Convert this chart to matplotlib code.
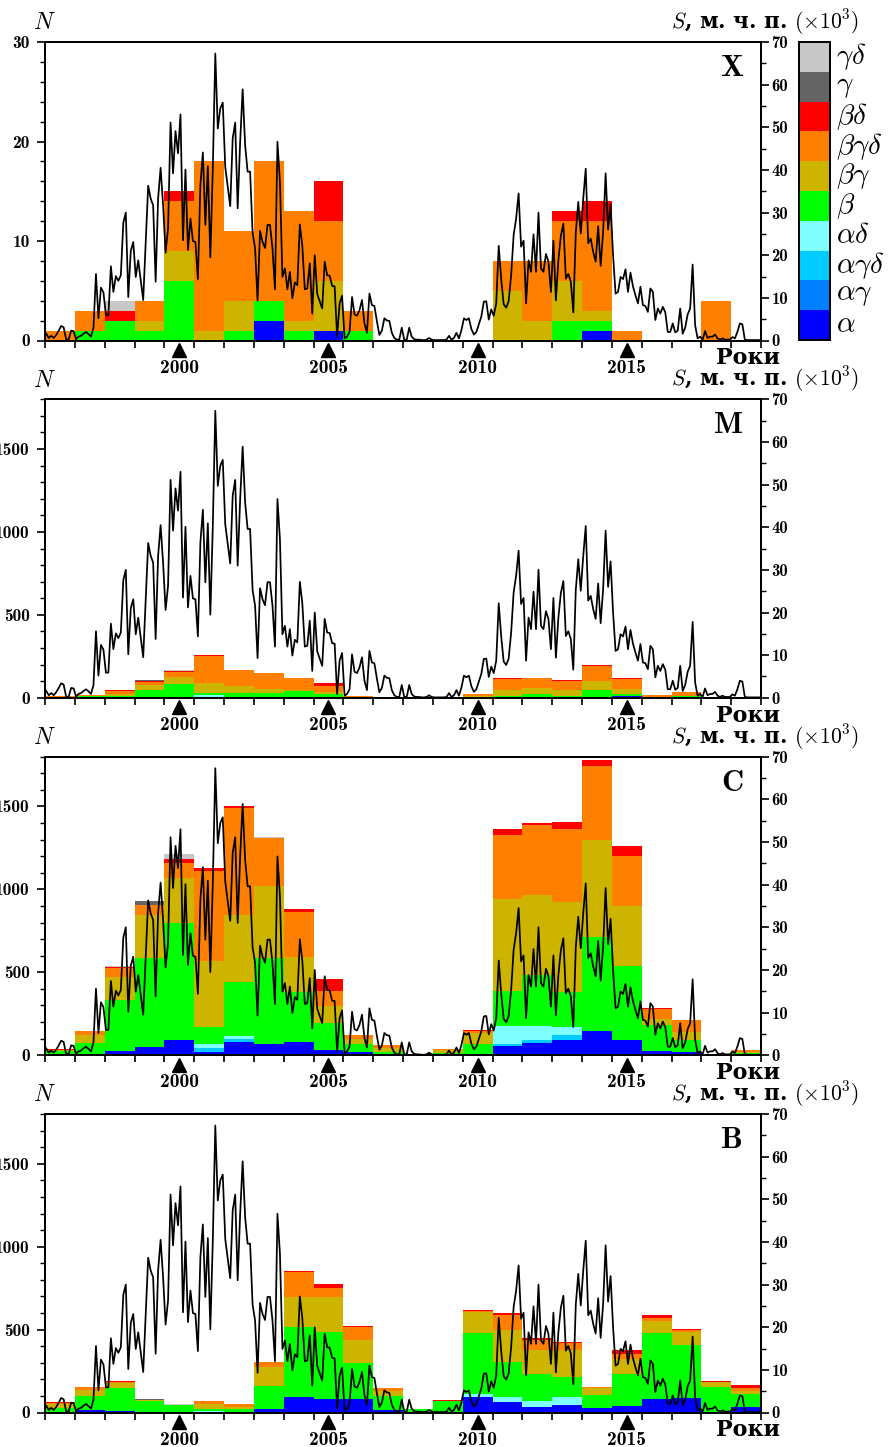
import numpy as np
import matplotlib
matplotlib.use("Agg")
import matplotlib.pyplot as plt
from matplotlib.ticker import MultipleLocator, FixedLocator
import matplotlib.transforms as mtrans

plt.rcParams['font.family'] = ['cmb10', 'DejaVu Serif']
plt.rcParams['mathtext.fontset'] = 'cm'
plt.rcParams['axes.unicode_minus'] = False

# роки (стовпчики на рік)
years = np.arange(1996, 2020)

# місячні значення площі плям S, м.ч.п. (x10^3), з січня 1996
area = [
    1.6, 0.6, 1.1, 0.6, 1.3, 2.3, 3.4, 3.1, 0.3, 0.2, 2.3, 2.2, 0.3, 0.9, 1.1, 1.6, 2.0, 1.5, 0.9, 3.0,
    15.6, 5.2, 12.4, 11.3, 5.9, 5.9, 17.4, 11.4, 15.1, 14.0, 15.3, 27.6, 30.0, 10.2, 21.0, 23.1, 14.9, 18.8, 14.2, 9.5,
    23.1, 36.3, 33.3, 31.7, 13.8, 33.3, 40.5, 31.7, 20.6, 26.3, 51.1, 39.2, 49.1, 43.9, 53.0, 23.5, 40.1, 21.2, 28.6, 23.3,
    23.1, 14.4, 36.4, 44.1, 27.1, 40.9, 19.5, 40.3, 67.3, 49.7, 54.4, 55.8, 40.7, 36.0, 31.5, 47.4, 51.1, 31.0, 46.6, 58.9,
    45.8, 39.6, 39.6, 25.3, 21.6, 9.3, 25.7, 23.1, 21.7, 27.1, 27.1, 21.6, 12.0, 46.6, 37.2, 14.9, 16.9, 12.0, 16.1, 9.9,
    13.6, 13.0, 27.2, 22.2, 12.0, 12.2, 18.1, 6.3, 20.0, 10.9, 9.2, 7.5, 18.5, 15.3, 15.2, 12.8, 12.7, 0.9, 8.7, 10.5,
    0.5, 0.9, 2.0, 10.2, 6.1, 5.8, 7.1, 9.5, 4.0, 1.8, 11.0, 8.3, 8.1, 4.5, 1.3, 2.3, 5.2, 4.7, 4.6, 1.8,
    0.6, 0.2, 0.2, 3.0, 0.2, 0.2, 3.0, 0.9, 0.3, 0.2, 0.2, 0.1, 0.1, 0.2, 0.6, 0.2, 0.1, 0.1, 0.1, 0.1,
    0.1, 0.2, 1.1, 0.2, 0.6, 1.8, 0.5, 2.4, 5.2, 4.8, 5.2, 2.7, 1.4, 2.0, 3.8, 5.6, 9.1, 9.2, 4.9, 7.3,
    5.8, 8.7, 22.2, 14.4, 8.5, 7.7, 9.2, 15.3, 24.7, 28.6, 34.5, 22.0, 23.4, 8.7, 18.8, 16.1, 24.9, 16.1, 30.0, 16.9,
    16.1, 20.3, 18.5, 11.4, 23.4, 9.4, 18.8, 24.6, 27.4, 14.5, 15.6, 13.8, 6.6, 25.3, 32.5, 25.1, 33.3, 40.3, 22.8, 23.9,
    20.8, 18.5, 26.8, 17.5, 25.5, 39.2, 26.0, 32.0, 20.0, 11.0, 11.4, 14.9, 14.4, 16.7, 11.4, 15.9, 12.7, 10.6, 8.7, 12.6,
    8.3, 8.1, 6.7, 12.2, 11.4, 4.8, 7.5, 6.3, 7.9, 6.6, 2.0, 2.0, 4.0, 1.9, 2.3, 7.5, 1.6, 3.0, 6.1, 7.5,
    17.8, 3.6, 0.5, 0.9, 0.2, 2.2, 0.6, 0.9, 0.9, 1.4, 0.5, 0.2, 0.5, 0.2, 0.2, 0.2, 0.8, 0.5, 2.0, 4.0,
    3.8, 0.2, 0.1, 0.1, 0.1, 0.1, 0.1, 0.1,
]

types = ['a', 'ag', 'agd', 'ad', 'b', 'bg', 'bgd', 'bd', 'g', 'gd']
type_labels = [r'$\alpha$', r'$\alpha\gamma$', r'$\alpha\gamma\delta$', r'$\alpha\delta$',
               r'$\beta$', r'$\beta\gamma$', r'$\beta\gamma\delta$', r'$\beta\delta$',
               r'$\gamma$', r'$\gamma\delta$']
colors = ['#0000ff', '#0080ff', '#00ccff', '#80ffff', '#00ff00',
          '#ccb400', '#ff8000', '#ff0000', '#646464', '#c8c8c8']

zero = [0] * 24

# спалахи класу X
x_a   = [0, 0, 0, 0, 0, 0, 0, 2, 0, 1, 0, 0, 0, 0, 0, 0, 0, 0, 1, 0, 0, 0, 0, 0]
x_b   = [0, 1, 2, 1, 6, 0, 1, 2, 1, 0, 1, 0, 0, 0, 0, 0, 0, 2, 1, 0, 0, 0, 0, 0]
x_bg  = [0, 0, 0, 1, 3, 1, 3, 0, 1, 5, 0, 0, 0, 0, 0, 5, 2, 4, 1, 0, 0, 0, 0, 0]
x_bgd = [1, 2, 0, 2, 5, 17, 7, 14, 11, 6, 2, 0, 0, 0, 0, 3, 6, 6, 9, 1, 0, 0, 4, 0]
x_bd  = [0, 0, 1, 0, 1, 0, 0, 0, 0, 4, 0, 0, 0, 0, 0, 0, 0, 1, 2, 0, 0, 0, 0, 0]
x_gd  = [0, 0, 1, 0, 0, 0, 0, 0, 0, 0, 0, 0, 0, 0, 0, 0, 0, 0, 0, 0, 0, 0, 0, 0]

# спалахи класу M
m_a   = [0, 0, 4, 4, 4, 4, 4, 4, 4, 4, 0, 0, 0, 0, 0, 2, 0, 6, 0, 12, 0, 0, 0, 0]
m_ad  = [0, 0, 0, 0, 0, 12, 0, 0, 0, 0, 0, 0, 0, 0, 0, 0, 0, 0, 0, 0, 0, 0, 0, 0]
m_b   = [4, 12, 6, 46, 79, 10, 22, 22, 36, 18, 4, 0, 0, 0, 6, 10, 22, 6, 46, 12, 6, 10, 0, 0]
m_bg  = [0, 0, 12, 27, 44, 61, 44, 30, 10, 10, 0, 0, 0, 0, 4, 38, 40, 34, 55, 32, 0, 0, 0, 0]
m_bgd = [6, 4, 20, 20, 30, 165, 97, 91, 67, 38, 6, 4, 0, 0, 12, 65, 59, 55, 93, 57, 10, 24, 0, 0]
m_bd  = [0, 0, 4, 4, 4, 4, 0, 0, 0, 17, 0, 0, 0, 0, 0, 6, 0, 4, 4, 6, 0, 0, 0, 0]
m_g   = [0, 0, 0, 6, 0, 0, 0, 0, 0, 0, 0, 0, 0, 0, 0, 0, 0, 0, 0, 0, 0, 0, 0, 0]
m_gd  = [0, 0, 0, 0, 6, 0, 0, 4, 0, 0, 0, 0, 0, 0, 0, 0, 0, 0, 0, 0, 0, 0, 0, 0]

# спалахи класу C
c_a   = [2, 10, 28, 48, 91, 18, 79, 67, 77, 34, 18, 0, 0, 0, 10, 58, 73, 89, 143, 91, 28, 18, 0, 0]
c_agd = [0, 0, 0, 0, 0, 26, 16, 0, 0, 0, 0, 0, 0, 0, 0, 11, 16, 30, 0, 0, 0, 0, 0, 0]
c_ad  = [0, 0, 0, 0, 0, 26, 20, 0, 0, 0, 0, 0, 0, 0, 0, 106, 90, 50, 0, 0, 0, 0, 0, 0]
c_b   = [22, 65, 303, 537, 707, 99, 325, 518, 302, 160, 47, 18, 6, 14, 60, 210, 303, 210, 571, 445, 155, 71, 0, 14]
c_bg  = [6, 46, 141, 262, 271, 400, 407, 437, 212, 102, 30, 26, 0, 18, 61, 557, 486, 544, 584, 363, 33, 50, 0, 6]
c_bgd = [4, 24, 56, 60, 90, 544, 645, 288, 274, 89, 24, 16, 0, 3, 12, 383, 423, 444, 448, 303, 60, 71, 0, 10]
c_bd  = [4, 0, 4, 0, 26, 14, 12, 0, 16, 73, 0, 0, 0, 0, 6, 40, 10, 40, 36, 60, 6, 0, 0, 4]
c_g   = [0, 0, 0, 20, 0, 0, 0, 0, 0, 0, 0, 0, 0, 0, 0, 0, 0, 0, 0, 0, 0, 0, 0, 0]
c_gd  = [0, 0, 4, 0, 29, 0, 0, 5, 0, 0, 0, 0, 0, 0, 0, 0, 0, 0, 0, 0, 0, 0, 0, 0]

# спалахи класу B
b_a   = [0, 14, 10, 6, 4, 0, 6, 24, 93, 80, 80, 14, 4, 3, 95, 64, 34, 46, 28, 40, 80, 87, 4, 32]
b_ad  = [0, 0, 0, 0, 0, 10, 0, 0, 0, 0, 0, 0, 0, 0, 16, 27, 36, 45, 0, 0, 0, 0, 0, 0]
b_b   = [30, 86, 139, 64, 42, 10, 18, 137, 420, 403, 216, 86, 16, 65, 368, 215, 165, 124, 79, 191, 399, 319, 151, 79]
b_bg  = [20, 37, 30, 8, 0, 34, 10, 115, 181, 211, 141, 29, 0, 0, 129, 191, 143, 163, 40, 89, 70, 81, 30, 16]
b_bgd = [10, 18, 6, 0, 0, 16, 18, 26, 155, 56, 80, 18, 0, 0, 4, 91, 61, 43, 4, 32, 20, 10, 0, 20]
b_bd  = [6, 0, 4, 0, 0, 0, 0, 0, 4, 25, 4, 0, 0, 5, 4, 10, 10, 4, 0, 24, 21, 6, 6, 16]
b_g   = [0, 0, 0, 4, 0, 0, 0, 0, 0, 0, 0, 0, 0, 0, 0, 0, 0, 0, 0, 0, 0, 0, 0, 0]
b_gd  = [0, 0, 0, 0, 4, 0, 0, 4, 0, 0, 0, 0, 0, 0, 0, 0, 0, 0, 0, 0, 0, 0, 0, 0]

panels = [
    ('X', [x_a, zero, zero, zero, x_b, x_bg, x_bgd, x_bd, zero, x_gd], 30, 10, 2),
    ('M', [m_a, zero, zero, m_ad, m_b, m_bg, m_bgd, m_bd, m_g, m_gd], 1800, 500, 100),
    ('C', [c_a, zero, c_agd, c_ad, c_b, c_bg, c_bgd, c_bd, c_g, c_gd], 1800, 500, 100),
    ('B', [b_a, zero, zero, b_ad, b_b, b_bg, b_bgd, b_bd, b_g, b_gd], 1800, 500, 100),
]

W, H = 895, 1447
fig = plt.figure(figsize=(W / 100, H / 100), dpi=100)


def px_axes(x0, y0, x1, y1):
    return fig.add_axes([x0 / W, 1 - y1 / H, (x1 - x0) / W, (y1 - y0) / H])


t = 1996 + (np.arange(len(area)) + 0.5) / 12
tops = [42, 399.3, 756.7, 1114]
lw_sp = 1.4
mark_years = [2000.5, 2005.5, 2010.5, 2015.5]

for (name, stack, ymax, major, minor), top in zip(panels, tops):
    ax = px_axes(45, top, 761, top + 298.5)
    bottom = np.zeros(len(years))
    for vals, col in zip(stack, colors):
        vals = np.array(vals, dtype=float)
        ax.bar(years, vals, width=1.0, bottom=bottom, align='edge',
               color=col, linewidth=0)
        bottom += vals
    ax.set_xlim(1996, 2020)
    ax.set_ylim(0, ymax)

    ax2 = ax.twinx()
    ax2.plot(t, area, color='k', lw=1.25)
    ax2.set_ylim(0, 70)

    # вісь x
    ax.xaxis.set_major_locator(FixedLocator(mark_years))
    ax.set_xticklabels(['2000', '2005', '2010', '2015'])
    ax.xaxis.set_minor_locator(FixedLocator(np.arange(1996, 2021)))
    ax.tick_params(axis='x', which='major', length=0, pad=13, labelsize=14)
    ax.tick_params(axis='x', which='minor', length=5, width=1.2, direction='out')
    ax.plot(mark_years, [-0.032] * 4, marker='^', ms=10, color='k', ls='none',
            transform=ax.get_xaxis_transform(), clip_on=False)

    # ліва вісь N
    ax.yaxis.set_major_locator(MultipleLocator(major))
    ax.yaxis.set_minor_locator(MultipleLocator(minor))
    ax.tick_params(axis='y', which='major', length=6, width=1.2, direction='out',
                   pad=5, labelsize=12.5)
    ax.tick_params(axis='y', which='minor', length=3.5, width=1.0, direction='out')

    # права вісь S
    ax2.yaxis.set_major_locator(MultipleLocator(10))
    ax2.yaxis.set_minor_locator(MultipleLocator(5))
    ax2.tick_params(axis='y', which='major', length=6, width=1.2, direction='out',
                    pad=1.5, labelsize=12)
    ax2.tick_params(axis='y', which='minor', length=3.5, width=1.0, direction='out')

    for a in (ax, ax2):
        for sp in a.spines.values():
            sp.set_linewidth(lw_sp)

    ax.text(-0.017, 1.062, '$N$', transform=ax.transAxes, fontsize=17,
            ha='left', va='center')
    ax.text(1.137, 1.066, r'$S$, м. ч. п. $(\times10^3)$', transform=ax.transAxes,
            family='DejaVu Serif', weight='bold', fontsize=15.5, ha='right', va='center')
    ax.text(0.982, -0.06, 'Роки', transform=ax.transAxes, family='DejaVu Serif',
            weight='bold', fontsize=16, ha='center', va='center')
    ax.text(0.975, 0.956, name, transform=ax.transAxes, fontsize=22,
            ha='right', va='top')

# легенда типів
lax = px_axes(799, 42, 830, 340)
for i, col in enumerate(colors):
    lax.bar(0, 1, bottom=i, width=1, align='edge', color=col, linewidth=0)
lax.set_xlim(0, 1)
lax.set_ylim(0, len(colors))
lax.set_xticks([])
lax.set_yticks([])
for sp in lax.spines.values():
    sp.set_linewidth(lw_sp)
ltr = mtrans.blended_transform_factory(lax.transAxes, lax.transData)
for i, lab in enumerate(type_labels):
    lax.text(1.2, i + 0.5, lab, transform=ltr, fontsize=21, ha='left', va='center')

fig.savefig('out.png', dpi=100)
